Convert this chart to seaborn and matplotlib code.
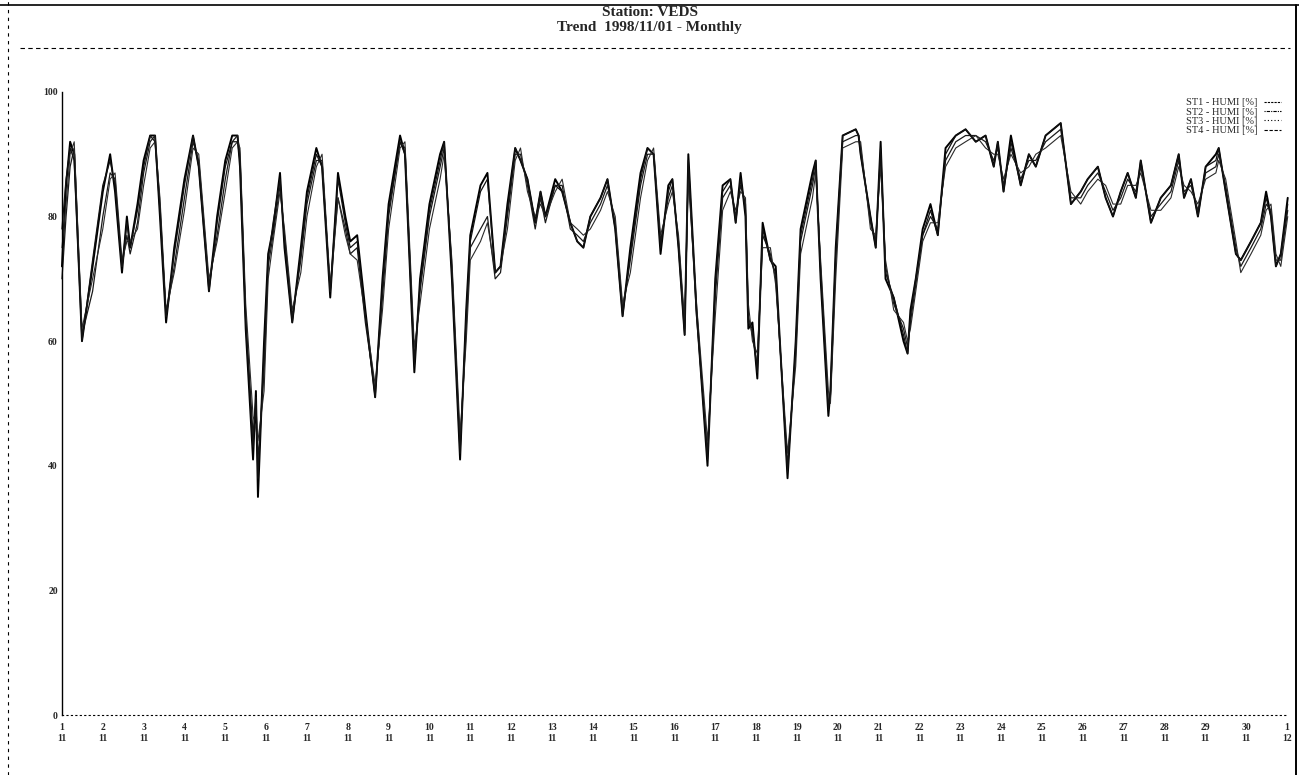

# plot.py
# Monthly humidity trend for station VEDS (four sensors), redrawn with seaborn.

import pandas as pd
import matplotlib.pyplot as plt
from matplotlib.lines import Line2D
import seaborn as sns

# Time axis in days of November 1998 (31.0 = 1 December)
days = [
    1.00, 1.10, 1.20, 1.30, 1.49, 1.75, 2.00, 2.18, 2.30, 2.47,
    2.59, 2.67, 2.85, 3.00, 3.16, 3.28, 3.40, 3.55, 3.75, 4.00,
    4.21, 4.35, 4.60, 4.80, 5.00, 5.17, 5.30, 5.36, 5.50, 5.68,
    5.75, 5.80, 5.95, 6.05, 6.17, 6.34, 6.45, 6.64, 6.85, 7.00,
    7.23, 7.37, 7.57, 7.76, 7.94, 8.06, 8.23, 8.43, 8.67, 8.85,
    9.00, 9.28, 9.40, 9.63, 9.77, 10.00, 10.26, 10.36, 10.55, 10.75,
    10.90, 11.00, 11.25, 11.42, 11.61, 11.74, 11.91, 12.10, 12.23, 12.40,
    12.59, 12.72, 12.84, 13.08, 13.25, 13.45, 13.62, 13.77, 13.94, 14.19,
    14.36, 14.55, 14.73, 14.92, 15.17, 15.34, 15.49, 15.66, 15.85, 15.95,
    16.10, 16.25, 16.34, 16.54, 16.81, 17.00, 17.18, 17.37, 17.50, 17.62,
    17.74, 17.81, 17.91, 18.03, 18.16, 18.35, 18.48, 18.77, 18.97, 19.09,
    19.38, 19.46, 19.58, 19.77, 19.82, 19.95, 20.12, 20.44, 20.51, 20.56,
    20.80, 20.93, 21.05, 21.17, 21.37, 21.61, 21.71, 21.78, 21.91, 22.08,
    22.27, 22.45, 22.64, 22.89, 23.13, 23.38, 23.62, 23.82, 23.92, 24.06,
    24.24, 24.48, 24.68, 24.85, 25.09, 25.46, 25.71, 25.95, 26.12, 26.37,
    26.56, 26.74, 26.93, 27.10, 27.30, 27.42, 27.67, 27.91, 28.16, 28.35,
    28.48, 28.65, 28.82, 29.01, 29.26, 29.33, 29.50, 29.75, 29.87, 30.12,
    30.36, 30.49, 30.61, 30.73, 30.85, 31.02,
]

st1_humi = [
    72, 85, 92, 90, 60, 72, 84, 90, 84, 71,
    80, 75, 82, 89, 93, 93, 80, 63, 75, 86,
    93, 88, 68, 80, 89, 93, 93, 88, 62, 41,
    52, 35, 60, 74, 78, 87, 75, 63, 75, 84,
    91, 88, 67, 87, 80, 76, 77, 65, 51, 70,
    82, 93, 90, 55, 70, 82, 90, 92, 70, 41,
    65, 77, 85, 87, 71, 72, 82, 91, 89, 86,
    79, 84, 80, 86, 84, 79, 76, 75, 80, 83,
    86, 78, 64, 75, 87, 91, 90, 74, 85, 86,
    75, 61, 90, 65, 40, 70, 85, 86, 79, 87,
    80, 62, 63, 54, 79, 73, 72, 38, 60, 78,
    87, 89, 70, 48, 52, 75, 93, 94, 93, 90,
    80, 75, 92, 70, 67, 60, 58, 65, 70, 78,
    82, 77, 91, 93, 94, 92, 93, 88, 92, 84,
    93, 85, 90, 88, 93, 95, 82, 84, 86, 88,
    83, 80, 84, 87, 83, 89, 79, 83, 85, 90,
    83, 86, 80, 88, 90, 91, 84, 74, 73, 76,
    79, 84, 80, 72, 74, 83,
]

st2_humi = [
    70, 80, 88, 91, 61, 68, 80, 87, 86, 72,
    77, 74, 79, 87, 92, 93, 82, 64, 72, 83,
    92, 89, 69, 77, 86, 92, 93, 90, 64, 45,
    50, 41, 55, 72, 77, 85, 77, 64, 73, 82,
    89, 89, 68, 83, 78, 74, 75, 63, 52, 67,
    80, 92, 91, 57, 68, 80, 88, 91, 72, 43,
    62, 75, 78, 80, 70, 71, 80, 90, 90, 85,
    78, 83, 79, 85, 85, 78, 77, 76, 79, 82,
    85, 79, 65, 73, 85, 90, 90, 76, 83, 85,
    76, 62, 88, 64, 42, 67, 83, 85, 80, 85,
    82, 64, 61, 56, 77, 74, 70, 40, 58, 76,
    85, 88, 72, 50, 51, 73, 92, 93, 93, 91,
    79, 76, 90, 72, 66, 62, 59, 63, 69, 77,
    80, 78, 89, 92, 93, 93, 92, 89, 91, 85,
    91, 86, 89, 89, 92, 94, 83, 83, 85, 87,
    84, 81, 83, 86, 84, 88, 80, 82, 84, 89,
    84, 85, 81, 87, 88, 90, 85, 75, 72, 75,
    78, 82, 81, 73, 73, 81,
]

st3_humi = [
    75, 82, 90, 92, 62, 70, 78, 86, 87, 73,
    76, 76, 78, 85, 91, 92, 83, 65, 71, 81,
    91, 90, 70, 76, 84, 91, 92, 91, 66, 48,
    46, 44, 52, 70, 76, 84, 78, 65, 71, 80,
    88, 90, 69, 83, 77, 74, 73, 64, 53, 65,
    78, 91, 92, 59, 66, 78, 86, 90, 73, 45,
    60, 73, 76, 79, 71, 72, 78, 89, 91, 84,
    80, 82, 80, 84, 86, 79, 78, 77, 78, 81,
    84, 80, 66, 71, 83, 89, 91, 77, 82, 84,
    77, 63, 86, 66, 44, 64, 81, 84, 81, 84,
    83, 66, 60, 58, 75, 75, 69, 42, 56, 74,
    83, 87, 73, 52, 50, 70, 91, 92, 92, 92,
    78, 77, 88, 73, 65, 63, 60, 62, 68, 76,
    79, 79, 88, 91, 92, 93, 91, 90, 90, 86,
    90, 87, 88, 90, 91, 93, 84, 82, 84, 86,
    85, 82, 82, 85, 85, 87, 81, 81, 83, 88,
    85, 84, 82, 86, 87, 89, 86, 76, 71, 74,
    77, 81, 82, 74, 72, 80,
]

st4_humi = [
    78, 86, 91, 89, 60, 73, 85, 89, 85, 72,
    79, 75, 81, 88, 93, 92, 81, 64, 74, 85,
    93, 88, 68, 79, 88, 92, 92, 89, 63, 43,
    51, 38, 58, 73, 79, 86, 76, 63, 74, 83,
    90, 88, 68, 86, 79, 75, 76, 64, 51, 69,
    81, 92, 90, 56, 69, 81, 89, 92, 71, 42,
    64, 76, 84, 86, 71, 72, 81, 91, 89, 86,
    79, 84, 80, 85, 84, 79, 76, 75, 80, 83,
    86, 78, 64, 74, 86, 91, 90, 75, 84, 86,
    75, 61, 89, 65, 41, 69, 84, 86, 79, 86,
    81, 63, 62, 55, 78, 73, 71, 39, 59, 77,
    86, 89, 71, 49, 52, 74, 93, 94, 93, 90,
    80, 75, 91, 71, 67, 61, 58, 64, 70, 77,
    81, 77, 90, 93, 94, 92, 93, 88, 92, 84,
    92, 85, 90, 88, 93, 95, 82, 84, 86, 88,
    83, 80, 84, 87, 83, 89, 79, 83, 85, 90,
    83, 86, 80, 88, 89, 91, 84, 74, 73, 76,
    79, 83, 80, 72, 74, 82,
]

series_names = ["ST1 - HUMI [%]", "ST2 - HUMI [%]", "ST3 - HUMI [%]", "ST4 - HUMI [%]"]

x_ticks = list(range(1, 32))
x_labels = [f"{d}\n11" for d in range(1, 31)] + ["1\n12"]
y_ticks = [0, 20, 40, 60, 80, 100]

sns.set_style("white")
plt.rcParams["font.family"] = ["Liberation Serif", "DejaVu Serif"]

fig = plt.figure(figsize=(12.99, 7.75), dpi=100)
ax = fig.add_axes([0.0477, 0.0774, 0.943, 0.804])

df = pd.DataFrame({"day": days, series_names[0]: st1_humi, series_names[1]: st2_humi,
                   series_names[2]: st3_humi, series_names[3]: st4_humi})

widths = [1.4, 0.9, 0.8, 0.9]
shades = ["#000000", "#1a1a1a", "#2a2a2a", "#111111"]
for name, lw, col in zip(series_names, widths, shades):
    sns.lineplot(data=df, x="day", y=name, ax=ax, color=col, linewidth=lw,
                 estimator=None, sort=False, clip_on=False)

ax.set_xlim(1, 31)
ax.set_ylim(0, 100)
ax.set_xticks(x_ticks)
ax.set_xticklabels(x_labels, fontsize=7, fontweight="bold", linespacing=1.3)
ax.set_yticks(y_ticks)
ax.set_yticklabels([str(v) for v in y_ticks], fontsize=7, fontweight="bold")
ax.tick_params(axis="x", length=0, pad=6)
ax.tick_params(axis="y", length=0, pad=3)
ax.set_xlabel("")
ax.set_ylabel("")

for side in ["top", "right"]:
    ax.spines[side].set_visible(False)
ax.spines["left"].set_color("black")
ax.spines["left"].set_linewidth(1.0)
ax.spines["left"].set_linestyle((0, (6, 1)))
ax.spines["bottom"].set_color("black")
ax.spines["bottom"].set_linewidth(0.8)
ax.spines["bottom"].set_linestyle((0, (1, 3)))

# Legend: text first, short line sample after
styles = [(0, (2, 1)), (0, (1, 1, 3, 1)), (0, (1, 2)), (0, (3, 1.5))]
handles = [Line2D([0], [0], color="black", linewidth=0.8, linestyle=s) for s in styles]
ax.legend(handles, series_names, loc="upper right", bbox_to_anchor=(1.0, 1.0),
          frameon=False, fontsize=7.5, handlelength=1.6, handletextpad=0.6,
          labelspacing=0.0, markerfirst=False, borderaxespad=0.2)

# Title lines
fig.text(0.5, 1 - 13 / 775, "Station: VEDS", ha="center", va="center",
         fontsize=11, fontweight="bold")
fig.text(0.5, 1 - 28 / 775, "Trend  1998/11/01 - Monthly", ha="center", va="center",
         fontsize=11, fontweight="bold")

# Scanned page frame
fig.add_artist(Line2D([0, 1], [1 - 5 / 775, 1 - 5 / 775], transform=fig.transFigure,
                      color="black", linewidth=1.2))
fig.add_artist(Line2D([20 / 1299, 1290 / 1299], [1 - 48 / 775, 1 - 48 / 775],
                      transform=fig.transFigure, color="black", linewidth=0.8,
                      linestyle=(0, (4, 3))))
fig.add_artist(Line2D([8 / 1299, 8 / 1299], [0, 1], transform=fig.transFigure,
                      color="black", linewidth=0.8, linestyle=(0, (3, 4))))
fig.add_artist(Line2D([1296 / 1299, 1296 / 1299], [0, 1 - 5 / 775], transform=fig.transFigure,
                      color="black", linewidth=1.4))

fig.savefig("out.png", dpi=100)
